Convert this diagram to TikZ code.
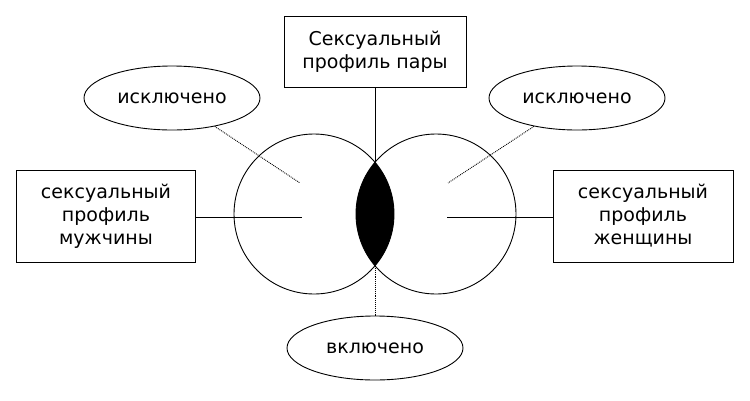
\documentclass[tikz,border=0pt]{standalone}
\usepackage{fontspec}
\setmainfont{DejaVu Sans}
\usetikzlibrary{shapes.geometric}
\begin{document}
\begin{tikzpicture}[x=1pt,y=-1pt,line width=0.9pt,
	box/.style={draw,align=center,font=\fontsize{19}{23}\selectfont},
	oval/.style={draw,ellipse,minimum width=176pt,minimum height=64pt,font=\fontsize{19}{23}\selectfont},
	ring/.style={draw,circle,minimum size=160pt}]
	\useasboundingbox (0,0) rectangle (750,400);
	% circles and lens
	\begin{scope}
		\clip (314,214) circle (80);
		\fill (436,214) circle (80);
	\end{scope}
	\node[ring] (men) at (314,214) {};
	\node[ring] (women) at (436,214) {};
	\coordinate (lenstop) at (375,162);
	\coordinate (lensbot) at (375,266);
	\coordinate (lin) at (302,217);
	\coordinate (rin) at (447,217);
	\coordinate (lex) at (300,183);
	\coordinate (rex) at (448,183);
	% boxes
	\node[box,minimum width=182pt,minimum height=71pt] (pair) at (375,52) {Сексуальный\\профиль пары};
	\node[box,minimum width=179pt,minimum height=92pt] (male) at (106,216) {сексуальный\\профиль\\мужчины};
	\node[box,minimum width=180pt,minimum height=92pt] (female) at (643,216) {сексуальный\\профиль\\женщины};
	% ovals
	\node[oval] (exl) at (172,98) {исключено};
	\node[oval] (exr) at (577,98) {исключено};
	\node[oval] (inc) at (375,348) {включено};
	% connectors
	\draw (pair) -- (lenstop);
	\draw (male.east |- lin) -- (lin);
	\draw (female.west |- rin) -- (rin);
	\draw[densely dotted] (exl) -- (lex);
	\draw[densely dotted] (exr) -- (rex);
	\draw[densely dotted] (lensbot) -- (inc);
\end{tikzpicture}
\end{document}
